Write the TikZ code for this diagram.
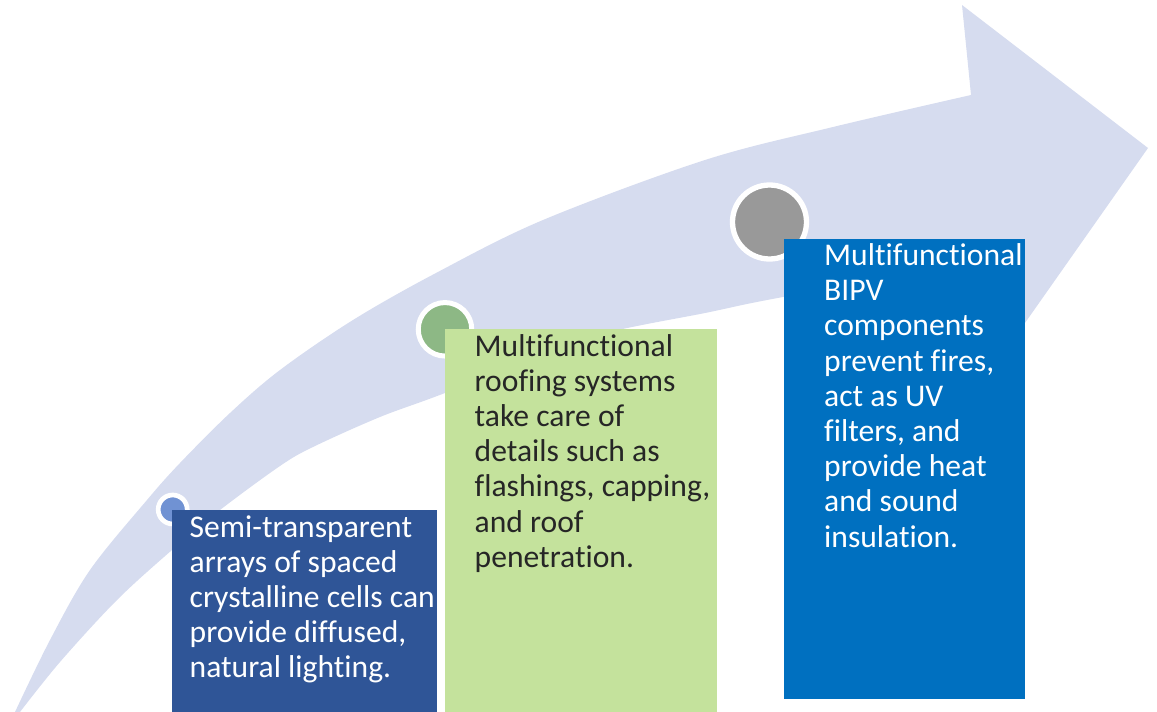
\documentclass[tikz,border=0pt]{standalone}
\usepackage{fontspec}
\setmainfont{Carlito}[RawFeature={-liga;-clig;-dlig;-calt}]
\usetikzlibrary{calc}
\definecolor{bandcol}{HTML}{D6DCEF}
\definecolor{navybox}{HTML}{2F5597}
\definecolor{greenbox}{HTML}{C4E29C}
\definecolor{bluebox}{HTML}{0070C0}
\definecolor{dotblue}{HTML}{7092D3}
\definecolor{dotgreen}{HTML}{8DB885}
\definecolor{dotgray}{HTML}{999999}
\definecolor{darktext}{HTML}{262626}
\tikzset{
  panel/.style={draw=none, rectangle, inner sep=0pt, anchor=north west},
  dot/.style={circle, draw=white, inner sep=0pt},
  % anchored at the baseline of the last line
  label text/.style={inner sep=0pt, anchor=base west, align=left,
    font=\fontsize{31.6}{35.2}\selectfont},
}
\begin{document}
\begin{tikzpicture}[x=1pt, y=-1pt]
\useasboundingbox (0,0) rectangle (1157,712);

% curved upward arrow in the background
\fill[bandcol] (15,712)
  -- plot[smooth, tension=0.55] coordinates {(15,712) (50,640) (90,570) (147,500) (180,463) (230,413) (280,370) (353,320) (436,273) (543,220) (705,160) (833,127) (971,95)}
  -- (962,5) -- (1148,148) -- (1013,340) -- (1000,258)
  -- plot[smooth, tension=0.55] coordinates {(1000,258) (783,297) (710,312) (579,340) (445,393) (380,417) (313,447) (280,466) (220,510) (172,550) (117,600) (60,662) (20,712)}
  -- cycle;

% milestone dots on the arrow
\node[dot, fill=dotblue,  line width=4.7pt, minimum size=29pt] (d1) at (172.7,509.5) {};
\node[dot, fill=dotgreen, line width=5pt,   minimum size=53.5pt] (d2) at (445,329.3) {};
\node[dot, fill=dotgray,  line width=5.3pt, minimum size=74pt] (d3) at (769.5,222) {};

% text panels
\node[panel, fill=navybox,  minimum width=265pt, minimum height=202pt] (p1) at (172,510) {};
\node[panel, fill=greenbox, minimum width=272pt, minimum height=383pt] (p2) at (445,329) {};
\node[panel, fill=bluebox,  minimum width=241pt, minimum height=460pt] (p3) at (784,239) {};

\node[label text, text=white] (t1) at ($(p1.north west)+(17.5,167.8)$)
  {Semi-transparent\\arrays of spaced\\crystalline cells can\\provide diffused,\\natural lighting.};
\node[label text, text=darktext] (t2) at ($(p2.north west)+(29.5,238.2)$)
  {Multifunctional\\roofing systems\\take care of\\details such as\\flashings, capping,\\and roof\\penetration.};
\node[label text, text=white] (t3) at ($(p3.north west)+(40,308.1)$)
  {Multifunctional\\BIPV\\components\\prevent fires,\\act as UV\\filters, and\\provide heat\\and sound\\insulation.};
\end{tikzpicture}
\end{document}
